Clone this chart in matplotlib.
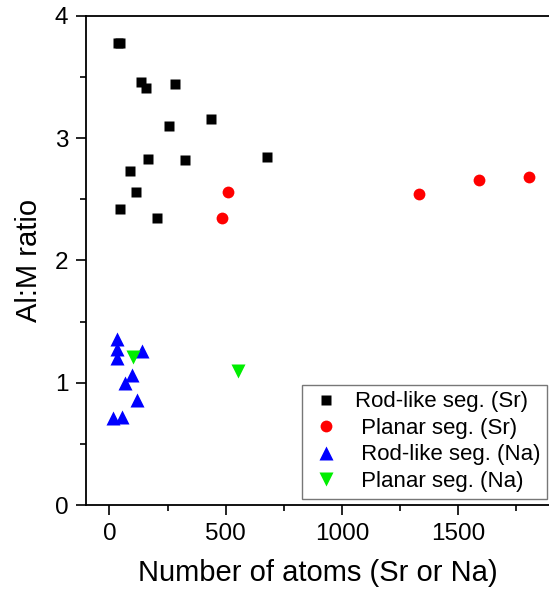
import matplotlib
matplotlib.use("Agg")
import matplotlib.pyplot as plt
from matplotlib.ticker import MultipleLocator

plt.rcParams['font.family'] = ['Liberation Sans', 'DejaVu Sans']

# Rod-like segregation (Sr)
rod_sr_x = [35, 45, 135, 157, 282, 257, 438, 164, 326, 677, 87, 114, 45, 203]
rod_sr_y = [3.78, 3.78, 3.46, 3.41, 3.44, 3.10, 3.16, 2.83, 2.82, 2.85, 2.73, 2.56, 2.42, 2.35]

# Planar segregation (Sr)
planar_sr_x = [511, 482, 1332, 1587, 1803]
planar_sr_y = [2.56, 2.35, 2.54, 2.66, 2.68]

# Rod-like segregation (Na)
rod_na_x = [31, 31, 31, 138, 98, 67, 117, 16, 52]
rod_na_y = [1.36, 1.28, 1.20, 1.26, 1.06, 1.00, 0.86, 0.71, 0.72]

# Planar segregation (Na)
planar_na_x = [102, 551]
planar_na_y = [1.21, 1.10]

fig = plt.figure(figsize=(5.49, 5.90), dpi=100)
ax = fig.add_axes([0.157, 0.144, 0.843, 0.829])

ax.plot(rod_sr_x, rod_sr_y, 's', color='black', ms=7.5, mec='none', label='Rod-like seg. (Sr)')
ax.plot(planar_sr_x, planar_sr_y, 'o', color='red', ms=8.5, mec='none', label=' Planar seg. (Sr)')
ax.plot(rod_na_x, rod_na_y, '^', color='blue', ms=9.5, mec='none', label=' Rod-like seg. (Na)')
ax.plot(planar_na_x, planar_na_y, 'v', color='#00ee00', ms=9.5, mec='none', label=' Planar seg. (Na)')

ax.set_xlim(-100, 1890)
ax.set_ylim(0, 4)
ax.xaxis.set_major_locator(MultipleLocator(500))
ax.xaxis.set_minor_locator(MultipleLocator(250))
ax.yaxis.set_major_locator(MultipleLocator(1))
ax.yaxis.set_minor_locator(MultipleLocator(0.5))
ax.tick_params(which='major', direction='out', length=7, width=1.2, labelsize=17.5, pad=6)
ax.tick_params(which='minor', direction='out', length=4, width=1.2)
ax.tick_params(top=False, right=False)
ax.spines['right'].set_visible(False)
for s in ('left', 'bottom', 'top'):
    ax.spines[s].set_linewidth(1.3)
ax.spines['bottom'].set_position(('data', 0))

ax.set_xlabel('Number of atoms (Sr or Na)', fontsize=21, labelpad=10)
ax.set_ylabel('Al:M ratio', fontsize=21, labelpad=8)

leg = ax.legend(loc='lower right', bbox_to_anchor=(0.996, 0.013), fontsize=16,
                frameon=True, fancybox=False, edgecolor='#555555',
                handletextpad=0.5, borderpad=0.3, labelspacing=0.25,
                handlelength=1.6, borderaxespad=0)
leg.get_frame().set_linewidth(1.0)

fig.savefig('out.png', dpi=100)
